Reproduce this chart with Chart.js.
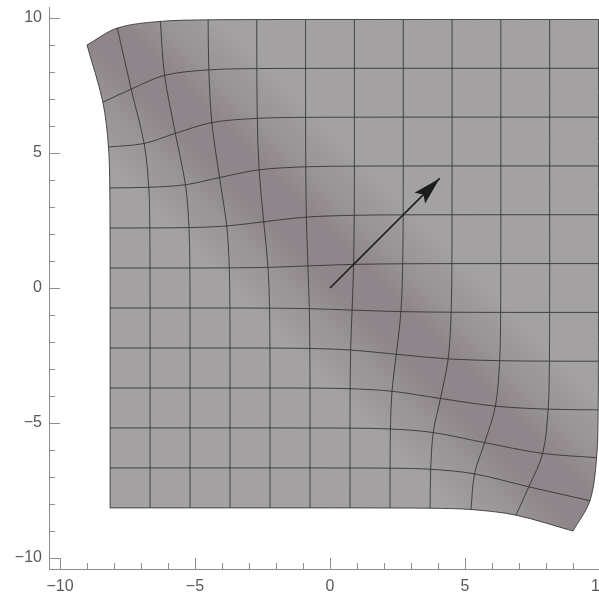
<!DOCTYPE html>
<html><head><meta charset="utf-8">
<style>
html,body{margin:0;padding:0;background:#fff;overflow:hidden;width:599px;height:593px;}
#wrap{position:absolute;left:0;top:0;width:640px;height:593px;}
</style>
<script src="https://cdn.jsdelivr.net/npm/chart.js@4.4.1/dist/chart.umd.min.js"></script>
</head><body><div id="wrap"><canvas id="c" width="640" height="593"></canvas></div>
<script>
// ---- data ----
const tickValues = [-10, -5, 0, 5, 10];
const tickLabels = ['−10', '−5', '0', '5', '10'];
const axisMin = -10.407, axisMax = 10.407;

// node x coordinates of the deformed grid, one row per grid row (bottom to top)
const gridXs = [
  [-8.145, -6.664, -5.183, -3.702, -2.222, -0.740, 0.740, 2.222, 3.707, 5.220, 6.884, 9.000],
  [-8.145, -6.664, -5.183, -3.702, -2.222, -0.740, 0.741, 2.225, 3.729, 5.354, 7.364, 9.627],
  [-8.145, -6.664, -5.183, -3.702, -2.222, -0.741, 0.741, 2.238, 3.824, 5.727, 7.877, 9.874],
  [-8.145, -6.664, -5.183, -3.702, -2.222, -0.741, 0.746, 2.295, 4.091, 6.126, 8.079, 9.932],
  [-8.145, -6.664, -5.183, -3.704, -2.225, -0.746, 0.765, 2.455, 4.376, 6.283, 8.126, 9.941],
  [-8.145, -6.664, -5.185, -3.707, -2.238, -0.765, 0.818, 2.626, 4.488, 6.320, 8.134, 9.945],
  [-8.145, -6.667, -5.190, -3.729, -2.295, -0.818, 0.875, 2.693, 4.514, 6.326, 8.137, 9.945],
  [-8.148, -6.673, -5.220, -3.824, -2.455, -0.875, 0.897, 2.709, 4.519, 6.328, 8.137, 9.945],
  [-8.156, -6.712, -5.354, -4.091, -2.626, -0.897, 0.903, 2.712, 4.521, 6.328, 8.137, 9.945],
  [-8.204, -6.884, -5.727, -4.376, -2.693, -0.903, 0.904, 2.713, 4.521, 6.328, 8.137, 9.945],
  [-8.413, -7.364, -6.126, -4.488, -2.709, -0.904, 0.904, 2.713, 4.521, 6.328, 8.137, 9.945],
  [-9.000, -7.877, -6.283, -4.514, -2.712, -0.904, 0.904, 2.713, 4.521, 6.328, 8.137, 9.945]
];
// node y coordinates, same layout
const gridYs = [
  [-8.145, -8.145, -8.145, -8.145, -8.145, -8.145, -8.145, -8.148, -8.156, -8.204, -8.413, -9.000],
  [-6.664, -6.664, -6.664, -6.664, -6.664, -6.664, -6.667, -6.673, -6.712, -6.884, -7.364, -7.877],
  [-5.183, -5.183, -5.183, -5.183, -5.183, -5.185, -5.190, -5.220, -5.354, -5.727, -6.126, -6.283],
  [-3.702, -3.702, -3.702, -3.702, -3.704, -3.707, -3.729, -3.824, -4.091, -4.376, -4.488, -4.514],
  [-2.222, -2.222, -2.222, -2.222, -2.225, -2.238, -2.295, -2.455, -2.626, -2.693, -2.709, -2.712],
  [-0.740, -0.740, -0.741, -0.741, -0.746, -0.765, -0.818, -0.875, -0.897, -0.903, -0.904, -0.904],
  [0.740, 0.741, 0.741, 0.746, 0.765, 0.818, 0.875, 0.897, 0.903, 0.904, 0.904, 0.904],
  [2.222, 2.225, 2.238, 2.295, 2.455, 2.626, 2.693, 2.709, 2.712, 2.713, 2.713, 2.713],
  [3.707, 3.729, 3.824, 4.091, 4.376, 4.488, 4.514, 4.519, 4.521, 4.521, 4.521, 4.521],
  [5.220, 5.354, 5.727, 6.126, 6.283, 6.320, 6.326, 6.328, 6.328, 6.328, 6.328, 6.328],
  [6.884, 7.364, 7.877, 8.079, 8.126, 8.134, 8.137, 8.137, 8.137, 8.137, 8.137, 8.137],
  [9.000, 9.627, 9.874, 9.932, 9.941, 9.945, 9.945, 9.945, 9.945, 9.945, 9.945, 9.945]
];
const arrowFrom = [0, 0];
const arrowTo = [4.06, 4.06];

// ---- styles ----
const LIGHT = '#a3a1a2';
const MID = '#989295';
const DARK = '#8e868a';
const LINE = 'rgba(45,45,45,0.82)';
const AXIS = '#8e8e8e';
const LABEL = '#5a5a5a';
const FONT = "'Liberation Sans', Arial, sans-serif";
const BAND_FROM = -2.4, BAND_TO = 3.5; // gradient endpoints along the diagonal

// ---- build datasets ----
const nRows = gridXs.length, nCols = gridXs[0].length;
const pt = (i, j) => ({ x: gridXs[j][i], y: gridYs[j][i] });
const lineStyle = { borderColor: LINE, borderWidth: 1, pointRadius: 0, tension: 0.33, fill: false, order: 1 };
const datasets = [];

// boundary (corners repeated so the outline keeps sharp corners)
const boundary = [];
for (let i = 0; i < nCols; i++) boundary.push(pt(i, 0));
for (let j = 0; j < nRows; j++) boundary.push(pt(nCols - 1, j));
for (let i = nCols - 1; i >= 0; i--) boundary.push(pt(i, nRows - 1));
for (let j = nRows - 1; j >= 0; j--) boundary.push(pt(0, j));

datasets.push({
  data: boundary, borderWidth: 0, pointRadius: 0, tension: 0.33, fill: 'shape', order: 5,
  borderColor: 'rgba(0,0,0,0)',
  backgroundColor: (ctx) => {
    const chart = ctx.chart;
    if (!chart.chartArea) return LIGHT;
    const sx = chart.scales.x, sy = chart.scales.y;
    const g = chart.ctx.createLinearGradient(
      sx.getPixelForValue(BAND_FROM), sy.getPixelForValue(BAND_FROM),
      sx.getPixelForValue(BAND_TO), sy.getPixelForValue(BAND_TO));
    g.addColorStop(0, LIGHT);
    g.addColorStop(0.1, LIGHT);
    g.addColorStop(0.3, MID);
    g.addColorStop(0.42, DARK);
    g.addColorStop(0.58, DARK);
    g.addColorStop(0.7, MID);
    g.addColorStop(0.9, LIGHT);
    g.addColorStop(1, LIGHT);
    return g;
  }
});
for (let j = 0; j < nRows; j++) {
  const d = []; for (let i = 0; i < nCols; i++) d.push(pt(i, j));
  datasets.push(Object.assign({ data: d }, lineStyle));
}
for (let i = 0; i < nCols; i++) {
  const d = []; for (let j = 0; j < nRows; j++) d.push(pt(i, j));
  datasets.push(Object.assign({ data: d }, lineStyle));
}
datasets.push({
  data: [{ x: arrowFrom[0], y: arrowFrom[1] }, { x: arrowTo[0], y: arrowTo[1] }],
  borderColor: '#1c1c1c', borderWidth: 1.6, pointRadius: 0, tension: 0, fill: false, order: 0
});

const labelFor = (v) => { const k = tickValues.indexOf(v); return k >= 0 ? tickLabels[k] : ''; };

const inTicks = {
  id: 'inTicks',
  afterDraw(chart) {
    const { x, y } = chart.scales, a = chart.chartArea, c = chart.ctx;
    c.save(); c.strokeStyle = AXIS; c.lineWidth = 1; c.beginPath();
    for (const t of x.ticks) {
      const p = Math.round(x.getPixelForValue(t.value)) + 0.5;
      const len = tickValues.includes(t.value) ? 11 : 6;
      c.moveTo(p, a.bottom); c.lineTo(p, a.bottom - len);
    }
    for (const t of y.ticks) {
      const p = Math.round(y.getPixelForValue(t.value)) + 0.5;
      const len = tickValues.includes(t.value) ? 11 : 6;
      c.moveTo(a.left, p); c.lineTo(a.left + len, p);
    }
    c.stroke(); c.restore();
  }
};
const arrowHead = {
  id: 'arrowHead',
  afterDatasetsDraw(chart) {
    const { x, y } = chart.scales, c = chart.ctx;
    const x0 = x.getPixelForValue(arrowFrom[0]), y0 = y.getPixelForValue(arrowFrom[1]);
    const x1 = x.getPixelForValue(arrowTo[0]), y1 = y.getPixelForValue(arrowTo[1]);
    const dx = x1 - x0, dy = y1 - y0, L0 = Math.hypot(dx, dy);
    const ux = dx / L0, uy = dy / L0, px = -uy, py = ux;
    const L = 28, W = 7.5, notch = 0.82;
    c.save(); c.fillStyle = '#1c1c1c'; c.beginPath();
    c.moveTo(x1, y1);
    c.lineTo(x1 - L * ux + W * px, y1 - L * uy + W * py);
    c.lineTo(x1 - notch * L * ux, y1 - notch * L * uy);
    c.lineTo(x1 - L * ux - W * px, y1 - L * uy - W * py);
    c.closePath(); c.fill(); c.restore();
  }
};

const axisCommon = {
  type: 'linear', min: axisMin, max: axisMax,
  grid: { display: false, drawTicks: false },
  border: { display: true, color: AXIS, width: 1 },
  ticks: {
    stepSize: 1, includeBounds: false, autoSkip: false, maxRotation: 0,
    color: LABEL, callback: (v) => labelFor(v)
  }
};

new Chart(document.getElementById('c'), {
  type: 'line',
  data: { datasets },
  options: {
    responsive: false, animation: false, devicePixelRatio: 1,
    parsing: false, normalized: true,
    layout: { padding: { left: 0, top: 7, right: 29, bottom: 0 } },
    plugins: { legend: { display: false }, tooltip: { enabled: false } },
    events: [],
    scales: {
      x: Object.assign({}, axisCommon, {
        position: 'bottom',
        ticks: Object.assign({}, axisCommon.ticks, { padding: 8, font: { family: FONT, size: 16 } }),
        afterFit: (s) => { s.height = 24; s.paddingLeft = 0; s.paddingRight = 0; }
      }),
      y: Object.assign({}, axisCommon, {
        position: 'left',
        ticks: Object.assign({}, axisCommon.ticks, { padding: 7, font: { family: FONT, size: 16 } }),
        afterFit: (s) => { s.width = 49; s.paddingTop = 0; s.paddingBottom = 0; }
      })
    }
  },
  plugins: [inTicks, arrowHead]
});
</script>
</body></html>
